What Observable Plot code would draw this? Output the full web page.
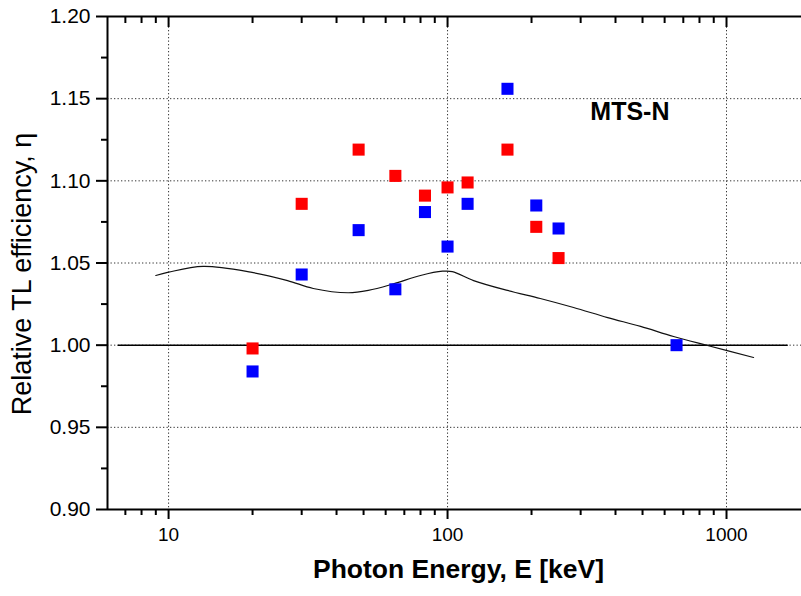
<!DOCTYPE html>
<html><head><meta charset="utf-8">
<script src="https://cdn.jsdelivr.net/npm/d3@7"></script>
<script src="https://cdn.jsdelivr.net/npm/@observablehq/plot@0.6"></script>
<style>body{margin:0;background:#fff} svg{display:block}</style>
</head><body><div id="chart"></div>
<script>
// Data
const energiesRed = [20, 30, 48, 65, 83, 100, 118, 164, 208, 250];
const etaRed = [0.998, 1.086, 1.119, 1.103, 1.091, 1.096, 1.099, 1.119, 1.072, 1.053];
const energiesBlue = [20, 30, 48, 65, 83, 100, 118, 164, 208, 250, 662];
const etaBlue = [0.984, 1.043, 1.070, 1.034, 1.081, 1.060, 1.086, 1.156, 1.085, 1.071, 1.000];
const curveE = [9, 10, 13.3, 19.7, 26.7, 33, 44, 52, 64, 80, 96, 104, 124, 164, 215, 283, 375, 492, 646, 855, 1250];
const curveEta = [1.0424, 1.0444, 1.0479, 1.0444, 1.0393, 1.0345, 1.0319, 1.0333, 1.0373, 1.0424, 1.0450, 1.0448, 1.0393, 1.0333, 1.0284, 1.0229, 1.0168, 1.0114, 1.0053, 0.9998, 0.9925];
const refE = [6.6, 1650];
const refEta = [1.0, 1.0];
const yTicks = [0.90, 0.95, 1.00, 1.05, 1.10, 1.15, 1.20];
const yMinor = [0.925, 0.975, 1.025, 1.075, 1.125, 1.175];
const yGrid = [0.95, 1.00, 1.05, 1.10, 1.15];
const xTicks = [10, 100, 1000];
const xMinor = [7, 8, 9, 20, 30, 40, 50, 60, 70, 80, 90, 200, 300, 400, 500, 600, 700, 800, 900];
const xDomain = [6.04, 1857];
const yDomain = [0.90, 1.20];
const seriesLabel = ["MTS-N"];
const seriesLabelE = [325];
const seriesLabelEta = [1.1416];
const xTitle = "Photon Energy, E [keV]";
const yTitle = "Relative TL efficiency, η";

const red = energiesRed.map((e, i) => ({e, eta: etaRed[i]}));
const blue = energiesBlue.map((e, i) => ({e, eta: etaBlue[i]}));
const curve = curveE.map((e, i) => ({e, eta: curveEta[i]}));
const ref = refE.map((e, i) => ({e, eta: refEta[i]}));
const ann = seriesLabel.map((t, i) => ({t, e: seriesLabelE[i], eta: seriesLabelEta[i]}));

const noText = () => "";
const chart = Plot.plot({
  width: 801, height: 596,
  marginLeft: 107, marginRight: 0, marginTop: 16, marginBottom: 87,
  style: {fontFamily: "'Liberation Sans', Arial, sans-serif", background: "#fff", color: "#000"},
  x: {type: "log", domain: xDomain, axis: null},
  y: {domain: yDomain, axis: null},
  marks: [
    Plot.gridX(xTicks, {stroke: "#333", strokeOpacity: 1, strokeDasharray: "1.3,2.2", strokeWidth: 1}),
    Plot.gridY(yGrid, {stroke: "#333", strokeOpacity: 1, strokeDasharray: "1.3,2.2", strokeWidth: 1}),
    Plot.ruleY([yDomain[0]], {stroke: "#000", strokeWidth: 2}),
    Plot.ruleY([yDomain[1]], {stroke: "#000", strokeWidth: 2}),
    Plot.ruleX([xDomain[0]], {stroke: "#000", strokeWidth: 2}),
    Plot.axisY(yTicks, {tickSize: 11, tickPadding: 6, tickFormat: d => d.toFixed(2), fontSize: 21, label: null, strokeWidth: 2}),
    Plot.axisY(yMinor, {tickSize: 6, tickFormat: noText, label: null, strokeWidth: 2}),
    Plot.axisX(xTicks, {tickSize: 10, tickPadding: 8, tickFormat: d => String(d), fontSize: 19, label: null, strokeWidth: 2}),
    Plot.axisX(xMinor, {tickSize: 6, tickFormat: noText, label: null, strokeWidth: 2}),
    Plot.axisX(xTicks, {anchor: "top", tickSize: 10, dy: 10, tickFormat: noText, label: null, strokeWidth: 2}),
    Plot.axisX(xMinor, {anchor: "top", tickSize: 6, dy: 6, tickFormat: noText, label: null, strokeWidth: 2}),
    Plot.line(ref, {x: "e", y: "eta", stroke: "#000", strokeWidth: 1.5}),
    Plot.line(curve, {x: "e", y: "eta", curve: "catmull-rom", stroke: "#111", strokeWidth: 1.2}),
    Plot.dot(red, {x: "e", y: "eta", symbol: "square", r: 6.8, fill: "#ff0000", stroke: "none"}),
    Plot.dot(blue, {x: "e", y: "eta", symbol: "square", r: 6.8, fill: "#0000ff", stroke: "none"}),
    Plot.text(ann, {x: "e", y: "eta", text: "t", textAnchor: "start", fontSize: 25, fontWeight: "bold", fill: "#000"}),
    Plot.text([yTitle], {frameAnchor: "left", textAnchor: "middle", rotate: -90, dx: -85, dy: 11, fontSize: 27, fill: "#000"}),
    Plot.text([xTitle], {frameAnchor: "bottom", dy: 68, dx: 4, fontSize: 26.5, fontWeight: "bold", fill: "#000"})
  ]
});
document.getElementById("chart").appendChild(chart);
</script>
</body></html>
